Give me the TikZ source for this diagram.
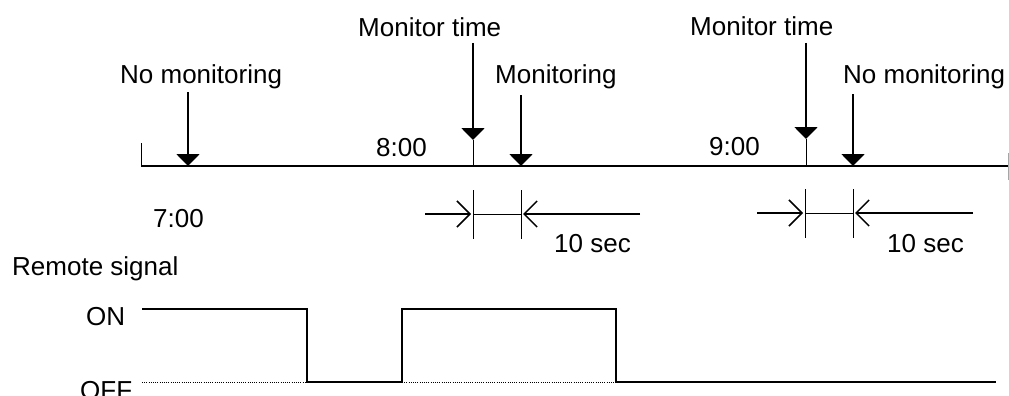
\documentclass[tikz,border=0pt]{standalone}
\usepackage{fontspec}
\setmainfont{Liberation Sans}
\usetikzlibrary{arrows.meta}
\begin{document}
\begin{tikzpicture}[x=1pt,y=-1pt,
  lbl/.style={anchor=base west, inner sep=0pt, font=\fontsize{26}{30}\selectfont},
  pointer/.style={line width=2pt, -{Triangle[width=23pt,length=12pt]}},
  tickline/.style={line width=1pt},
  axisline/.style={line width=1.8pt},
  dimarrow/.style={line width=1.5pt, -{Straight Barb[length=13pt,width=26pt]}},
  sig/.style={line width=1.5pt},
  offdots/.style={line width=1pt, dash pattern=on 1pt off 1.2pt},
]
\useasboundingbox (0,0) rectangle (1009,396);

% labels
\node[lbl] (nomon1) at (120,83) {No monitoring};
\node[lbl] (mt1) at (358,37) {Monitor time};
\node[lbl] (mon) at (495,83) {Monitoring};
\node[lbl] (mt2) at (690,36) {Monitor time};
\node[lbl] (nomon2) at (843,83) {No monitoring};
\node[lbl] (t8) at (376,156) {8:00};
\node[lbl] (t9) at (709,155) {9:00};
\node[lbl] (t7) at (153,227) {7:00};
\node[lbl] (sec1) at (554,252) {10 sec};
\node[lbl] (sec2) at (887,252) {10 sec};
\node[lbl] (rs) at (12,275) {Remote signal};
\node[lbl] (on) at (86,325) {ON};
\node[lbl] (off) at (80,399) {OFF};

% time axis
\coordinate (ax0) at (141,166);
\coordinate (ax1) at (1008,166);
\coordinate (axt) at (141,143);
\draw[axisline] (ax0) -- (ax1);
\draw[tickline] (axt) -- (ax0);
\draw[gray!70, line width=0.6pt] (1008,153) -- (1008,180);

% pointers
\coordinate (p1s) at (188,92);   \coordinate (p1e) at (188,166);
\coordinate (p2s) at (473,43);   \coordinate (p2e) at (473,140);
\coordinate (p3s) at (521,95);   \coordinate (p3e) at (521,166);
\coordinate (p4s) at (806,43);   \coordinate (p4e) at (806,139);
\coordinate (p5s) at (853,94);   \coordinate (p5e) at (853,166);
\draw[pointer] (p1s) -- (p1e);
\draw[pointer] (p2s) -- (p2e);
\draw[pointer] (p3s) -- (p3e);
\draw[pointer] (p4s) -- (p4e);
\draw[pointer] (p5s) -- (p5e);
\draw[tickline] (p2e) -- (473,166);
\draw[tickline] (p4e) -- (806,166);

% dimension 1
\draw[tickline] (473,190) -- (473,239);
\draw[tickline] (521,190) -- (521,239);
\draw[dimarrow] (425,214) -- (471,214);
\draw[tickline] (473,214) -- (521,214);
\draw[dimarrow] (640,214) -- (523,214);

% dimension 2
\draw[tickline] (805,189) -- (805,238);
\draw[tickline] (853,189) -- (853,238);
\draw[dimarrow] (757,213) -- (803,213);
\draw[tickline] (805,213) -- (853,213);
\draw[dimarrow] (973,213) -- (855,213);

% remote signal
\draw[offdots] (142,382) -- (307,382);
\draw[offdots] (402,382) -- (616,382);
\draw[sig] (142,309) -- (307,309) -- (307,382) -- (402,382) -- (402,309)
  -- (616,309) -- (616,382) -- (996,382);
\end{tikzpicture}
\end{document}
